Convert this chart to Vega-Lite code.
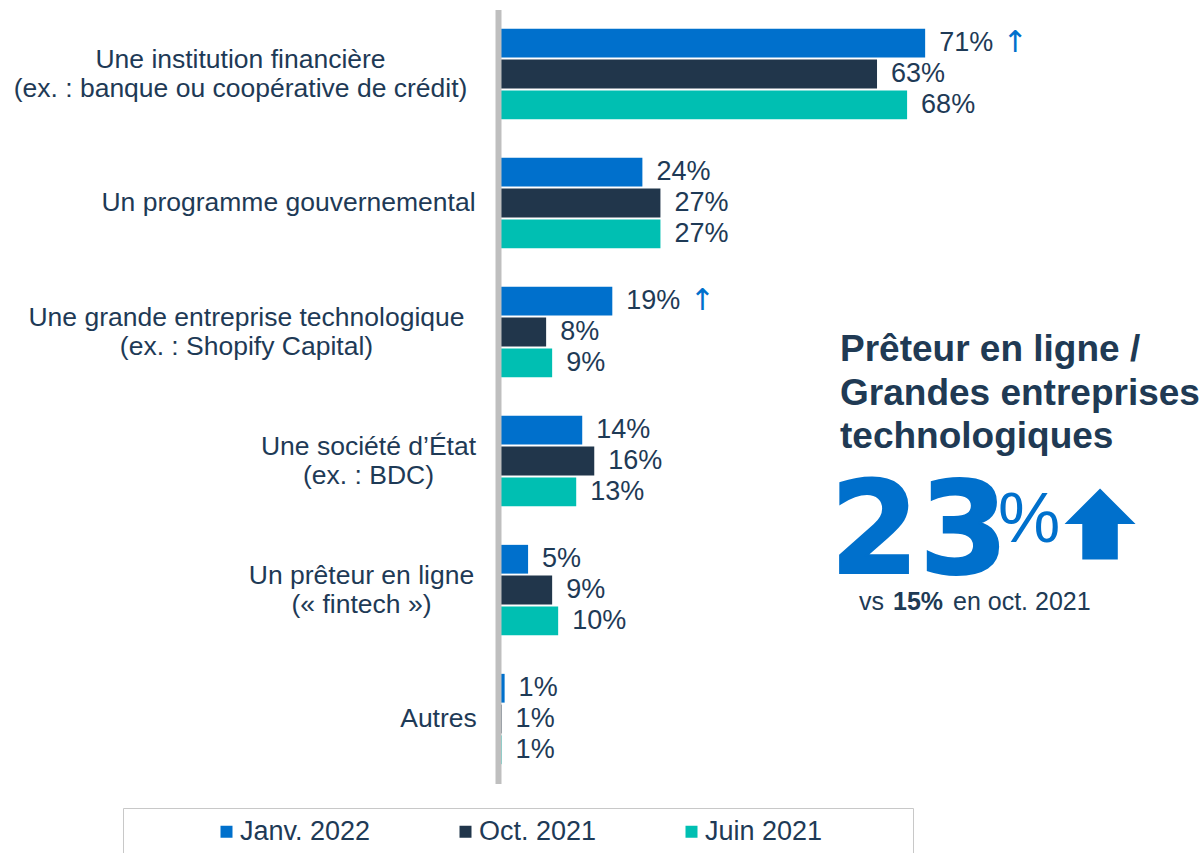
{
  "$schema": "https://vega.github.io/schema/vega-lite/v6.json",
  "width": 706,
  "height": 774,
  "autosize": {"type": "none"},
  "padding": {"left": 498, "top": 9.5, "right": 0, "bottom": 69.5},
  "background": "white",
  "config": {"view": {"stroke": null}, "font": "Liberation Sans"},
  "datasets": {
    "bars": [
      {"cat": "Une institution financière\n(ex. : banque ou coopérative de crédit)", "series": "Janv. 2022", "value": 71, "label": "71%", "arrow": "↑"},
      {"cat": "Une institution financière\n(ex. : banque ou coopérative de crédit)", "series": "Oct. 2021", "value": 63, "label": "63%", "arrow": ""},
      {"cat": "Une institution financière\n(ex. : banque ou coopérative de crédit)", "series": "Juin 2021", "value": 68, "label": "68%", "arrow": ""},
      {"cat": "Un programme gouvernemental", "series": "Janv. 2022", "value": 24, "label": "24%", "arrow": ""},
      {"cat": "Un programme gouvernemental", "series": "Oct. 2021", "value": 27, "label": "27%", "arrow": ""},
      {"cat": "Un programme gouvernemental", "series": "Juin 2021", "value": 27, "label": "27%", "arrow": ""},
      {"cat": "Une grande entreprise technologique\n(ex. : Shopify Capital)", "series": "Janv. 2022", "value": 19, "label": "19%", "arrow": "↑"},
      {"cat": "Une grande entreprise technologique\n(ex. : Shopify Capital)", "series": "Oct. 2021", "value": 8, "label": "8%", "arrow": ""},
      {"cat": "Une grande entreprise technologique\n(ex. : Shopify Capital)", "series": "Juin 2021", "value": 9, "label": "9%", "arrow": ""},
      {"cat": "Une société d’État\n(ex. : BDC)", "series": "Janv. 2022", "value": 14, "label": "14%", "arrow": ""},
      {"cat": "Une société d’État\n(ex. : BDC)", "series": "Oct. 2021", "value": 16, "label": "16%", "arrow": ""},
      {"cat": "Une société d’État\n(ex. : BDC)", "series": "Juin 2021", "value": 13, "label": "13%", "arrow": ""},
      {"cat": "Un prêteur en ligne\n(« fintech »)", "series": "Janv. 2022", "value": 5, "label": "5%", "arrow": ""},
      {"cat": "Un prêteur en ligne\n(« fintech »)", "series": "Oct. 2021", "value": 9, "label": "9%", "arrow": ""},
      {"cat": "Un prêteur en ligne\n(« fintech »)", "series": "Juin 2021", "value": 10, "label": "10%", "arrow": ""},
      {"cat": "Autres", "series": "Janv. 2022", "value": 1.1, "label": "1%", "arrow": ""},
      {"cat": "Autres", "series": "Oct. 2021", "value": 0.6, "label": "1%", "arrow": ""},
      {"cat": "Autres", "series": "Juin 2021", "value": 0.6, "label": "1%", "arrow": ""}
    ]
  },
  "layer": [
    {
      "data": {"name": "bars"},
      "mark": {"type": "bar"},
      "encoding": {
        "x": {"field": "value", "type": "quantitative", "scale": {"domain": [0, 117.35], "nice": false, "zero": true}, "axis": null},
        "y": {
          "field": "cat", "type": "nominal", "sort": null,
          "scale": {"domain": [
            "Une institution financière\n(ex. : banque ou coopérative de crédit)",
            "Un programme gouvernemental",
            "Une grande entreprise technologique\n(ex. : Shopify Capital)",
            "Une société d’État\n(ex. : BDC)",
            "Un prêteur en ligne\n(« fintech »)",
            "Autres"
          ], "paddingInner": 0.3, "paddingOuter": 0.15},
          "axis": {
            "title": null,
            "zindex": 1,
            "domain": true,
            "domainColor": "#bfbfbf",
            "domainWidth": 6,
            "ticks": false,
            "tickSize": 0,
            "offset": 0,
            "labelFont": "Liberation Sans",
            "labelFontSize": 26.5,
            "labelColor": "#1e3a56",
            "labelLineHeight": 29,
            "labelAlign": "center",
            "labelBaseline": "middle",
            "labelLimit": 700,
            "labelExpr": "split(datum.label, '\\n')",
            "labelOffset": {
              "condition": {"test": "indexof(datum.value, '\\n') >= 0", "value": -14},
              "value": 0
            },
            "labelPadding": {
              "condition": [
                {"test": "indexof(datum.value, 'financi') >= 0", "value": 258},
                {"test": "indexof(datum.value, 'programme') >= 0", "value": 210},
                {"test": "indexof(datum.value, 'Shopify') >= 0", "value": 252},
                {"test": "indexof(datum.value, 'BDC') >= 0", "value": 130},
                {"test": "indexof(datum.value, 'fintech') >= 0", "value": 137}
              ],
              "value": 60
            }
          }
        },
        "yOffset": {"field": "series", "type": "nominal", "sort": ["Janv. 2022", "Oct. 2021", "Juin 2021"], "scale": {"paddingInner": 0.065, "paddingOuter": 0}},
        "color": {
          "field": "series", "type": "nominal",
          "scale": {"domain": ["Janv. 2022", "Oct. 2021", "Juin 2021"], "range": ["#0070cc", "#21364b", "#00bfb2"]},
          "legend": {
            "orient": "none",
            "legendX": -375,
            "legendY": 798.5,
            "direction": "horizontal",
            "title": "\u2800\u2800\u2800\u2800",
            "titleOrient": "left",
            "titleFontSize": 27,
            "titlePadding": 0,
            "titleFont": "Liberation Sans",
            "labelFont": "Liberation Sans",
            "labelFontSize": 27,
            "labelColor": "#1e3a56",
            "labelLimit": 400,
            "labelOffset": 0,
            "labelExpr": "datum.label == 'Juin 2021' ? 'Juin 2021\u2800\u2800\u2800\u2800' : datum.label",
            "symbolType": "square",
            "symbolSize": 144,
            "symbolStrokeWidth": 0,
            "columnPadding": 81,
            "padding": 10,
            "strokeColor": "#c8c8c8"
          }
        }
      }
    },
    {
      "data": {"name": "bars"},
      "mark": {"type": "text", "align": "left", "baseline": "middle", "dx": 14, "fontSize": 27, "color": "#1e3a56"},
      "encoding": {
        "x": {"field": "value", "type": "quantitative"},
        "y": {"field": "cat", "type": "nominal", "sort": null},
        "yOffset": {"field": "series", "type": "nominal", "sort": ["Janv. 2022", "Oct. 2021", "Juin 2021"]},
        "text": {"field": "label"}
      }
    },
    {
      "data": {"name": "bars"},
      "transform": [{"filter": "datum.arrow != ''"}],
      "mark": {"type": "text", "align": "center", "baseline": "middle", "dx": 90, "fontSize": 30, "color": "#0070cc", "font": "DejaVu Sans"},
      "encoding": {
        "x": {"field": "value", "type": "quantitative"},
        "y": {"field": "cat", "type": "nominal", "sort": null},
        "yOffset": {"field": "series", "type": "nominal", "sort": ["Janv. 2022", "Oct. 2021", "Juin 2021"]},
        "text": {"field": "arrow"}
      }
    },
    {
      "data": {"values": [{"cat": "Une grande entreprise technologique\n(ex. : Shopify Capital)", "x": 56.85, "t": ["Prêteur en ligne /", "Grandes entreprises", "technologiques"]}]},
      "mark": {"type": "text", "align": "left", "baseline": "alphabetic", "dy": 29, "fontSize": 37, "fontWeight": "bold", "lineHeight": 43.5, "color": "#203a54"},
      "encoding": {
        "x": {"field": "x", "type": "quantitative"},
        "y": {"field": "cat", "type": "nominal", "sort": null},
        "text": {"field": "t"}
      }
    },
    {
      "data": {"values": [{"cat": "Un prêteur en ligne\n(« fintech »)", "x": 55.2, "t": "23"}]},
      "mark": {"type": "text", "align": "left", "baseline": "alphabetic", "dy": -17, "fontSize": 128, "fontWeight": "bold", "font": "DejaVu Sans", "color": "#0070cc", "stroke": "#0070cc", "strokeWidth": 2},
      "encoding": {
        "x": {"field": "x", "type": "quantitative"},
        "y": {"field": "cat", "type": "nominal", "sort": null},
        "text": {"field": "t"}
      }
    },
    {
      "data": {"values": [{"cat": "Un prêteur en ligne\n(« fintech »)", "x": 83.1, "t": "%"}]},
      "mark": {"type": "text", "align": "left", "baseline": "alphabetic", "dy": -48, "fontSize": 70, "color": "#0070cc"},
      "encoding": {
        "x": {"field": "x", "type": "quantitative"},
        "y": {"field": "cat", "type": "nominal", "sort": null},
        "text": {"field": "t"}
      }
    },
    {
      "data": {"values": [{"cat": "Une société d’État\n(ex. : BDC)", "x": 100.07}]},
      "mark": {"type": "point", "shape": "M0,-1L1,0L0.5,0L0.5,1L-0.5,1L-0.5,0L-1,0Z", "filled": true, "color": "#0070cc", "opacity": 1, "size": 5041},
      "encoding": {
        "x": {"field": "x", "type": "quantitative"},
        "y": {"field": "cat", "type": "nominal", "sort": null, "bandPosition": 1.198}
      }
    },
    {
      "data": {"values": [
        {"cat": "Un prêteur en ligne\n(« fintech »)", "x": 60.0, "t": "vs"},
        {"cat": "Un prêteur en ligne\n(« fintech »)", "x": 75.63, "t": "en oct. 2021"}
      ]},
      "mark": {"type": "text", "align": "left", "baseline": "alphabetic", "dy": 20, "fontSize": 25, "color": "#203a54"},
      "encoding": {
        "x": {"field": "x", "type": "quantitative"},
        "y": {"field": "cat", "type": "nominal", "sort": null},
        "text": {"field": "t"}
      }
    },
    {
      "data": {"values": [{"cat": "Un prêteur en ligne\n(« fintech »)", "x": 65.66, "t": "15%"}]},
      "mark": {"type": "text", "align": "left", "baseline": "alphabetic", "dy": 20, "fontSize": 25, "fontWeight": "bold", "color": "#203a54"},
      "encoding": {
        "x": {"field": "x", "type": "quantitative"},
        "y": {"field": "cat", "type": "nominal", "sort": null},
        "text": {"field": "t"}
      }
    }
  ]
}
